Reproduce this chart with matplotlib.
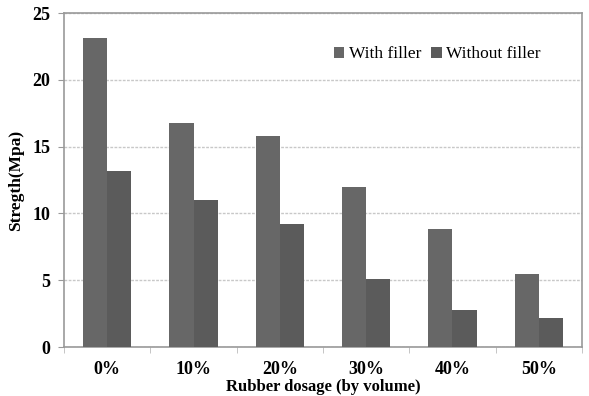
import numpy as np
import matplotlib.pyplot as plt

categories = ['0%', '10%', '20%', '30%', '40%', '50%']
with_filler = [23.1, 16.8, 15.8, 12.0, 8.8, 5.5]
without_filler = [13.2, 11.0, 9.2, 5.1, 2.8, 2.2]

plt.rcParams['font.family'] = ['Liberation Serif', 'DejaVu Serif']
plt.rcParams['font.weight'] = 'bold'

fig = plt.figure(figsize=(5.89, 3.96), dpi=100)
ax = fig.add_axes([64 / 589, 49 / 396, 518 / 589, 334 / 396])

x = np.arange(len(categories))
w = 0.28
ax.bar(x - w / 2, with_filler, w, color='#676767', label='With filler', zorder=3)
ax.bar(x + w / 2, without_filler, w, color='#5b5b5b', label='Without filler', zorder=3)

ax.set_xlim(-0.5, len(categories) - 0.5)
ax.set_ylim(0, 25)
ax.set_yticks([0, 5, 10, 15, 20, 25])
ax.set_xticks(x)
ax.set_xticklabels(categories)
ax.set_xticks(np.arange(len(categories) + 1) - 0.5, minor=True)
ax.tick_params(axis='x', which='major', length=0, pad=10, labelsize=13)
ax.tick_params(axis='x', which='minor', length=4, color='#bbbbbb')
ax.tick_params(axis='y', length=4, color='#999999', labelsize=13, pad=6)
ax.yaxis.grid(True, linestyle=(0, (2, 1)), color='#c8c8c8', linewidth=1, zorder=0)

for s in ax.spines.values():
    s.set_color('#999999')
    s.set_linewidth(1.2)

ax.set_ylabel('Stregth(Mpa)', fontsize=12.5, fontweight='bold', labelpad=6)
ax.set_xlabel('Rubber dosage (by volume)', fontsize=12, fontweight='bold', labelpad=1)

leg = ax.legend(loc='upper right', bbox_to_anchor=(0.92, 0.90), ncol=2, frameon=False,
                borderaxespad=0, borderpad=0,
                handlelength=0.6, handleheight=0.6, handletextpad=0.25, columnspacing=0.6,
                prop={'family': 'Liberation Serif', 'weight': 'normal', 'size': 12.5})

fig.savefig('out.png', dpi=100)
